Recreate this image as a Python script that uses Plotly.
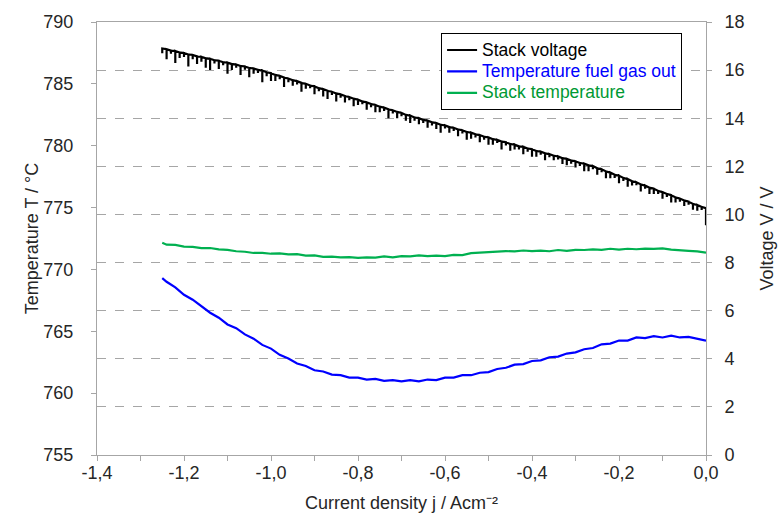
import plotly.graph_objects as go

# ---------------- data ----------------
# stack voltage: each current-density value appears three times (level, spike minimum, level)
j_volt = [-1.25, -1.25, -1.25, -1.24, -1.24, -1.24, -1.23, -1.23, -1.23, -1.22, -1.22, -1.22, -1.21, -1.21, -1.21,
          -1.20, -1.20, -1.20, -1.19, -1.19, -1.19, -1.18, -1.18, -1.18, -1.17, -1.17, -1.17, -1.16, -1.16, -1.16,
          -1.15, -1.15, -1.15, -1.14, -1.14, -1.14, -1.13, -1.13, -1.13, -1.12, -1.12, -1.12, -1.11, -1.11, -1.11,
          -1.10, -1.10, -1.10, -1.09, -1.09, -1.09, -1.08, -1.08, -1.08, -1.07, -1.07, -1.07, -1.06, -1.06, -1.06,
          -1.05, -1.05, -1.05, -1.04, -1.04, -1.04, -1.03, -1.03, -1.03, -1.02, -1.02, -1.02, -1.01, -1.01, -1.01,
          -1.00, -1.00, -1.00, -0.99, -0.99, -0.99, -0.98, -0.98, -0.98, -0.97, -0.97, -0.97, -0.96, -0.96, -0.96,
          -0.95, -0.95, -0.95, -0.94, -0.94, -0.94, -0.93, -0.93, -0.93, -0.92, -0.92, -0.92, -0.91, -0.91, -0.91,
          -0.90, -0.90, -0.90, -0.89, -0.89, -0.89, -0.88, -0.88, -0.88, -0.87, -0.87, -0.87, -0.86, -0.86, -0.86,
          -0.85, -0.85, -0.85, -0.84, -0.84, -0.84, -0.83, -0.83, -0.83, -0.82, -0.82, -0.82, -0.81, -0.81, -0.81,
          -0.80, -0.80, -0.80, -0.79, -0.79, -0.79, -0.78, -0.78, -0.78, -0.77, -0.77, -0.77, -0.76, -0.76, -0.76,
          -0.75, -0.75, -0.75, -0.74, -0.74, -0.74, -0.73, -0.73, -0.73, -0.72, -0.72, -0.72, -0.71, -0.71, -0.71,
          -0.70, -0.70, -0.70, -0.69, -0.69, -0.69, -0.68, -0.68, -0.68, -0.67, -0.67, -0.67, -0.66, -0.66, -0.66,
          -0.65, -0.65, -0.65, -0.64, -0.64, -0.64, -0.63, -0.63, -0.63, -0.62, -0.62, -0.62, -0.61, -0.61, -0.61,
          -0.60, -0.60, -0.60, -0.59, -0.59, -0.59, -0.58, -0.58, -0.58, -0.57, -0.57, -0.57, -0.56, -0.56, -0.56,
          -0.55, -0.55, -0.55, -0.54, -0.54, -0.54, -0.53, -0.53, -0.53, -0.52, -0.52, -0.52, -0.51, -0.51, -0.51,
          -0.50, -0.50, -0.50, -0.49, -0.49, -0.49, -0.48, -0.48, -0.48, -0.47, -0.47, -0.47, -0.46, -0.46, -0.46,
          -0.45, -0.45, -0.45, -0.44, -0.44, -0.44, -0.43, -0.43, -0.43, -0.42, -0.42, -0.42, -0.41, -0.41, -0.41,
          -0.40, -0.40, -0.40, -0.39, -0.39, -0.39, -0.38, -0.38, -0.38, -0.37, -0.37, -0.37, -0.36, -0.36, -0.36,
          -0.35, -0.35, -0.35, -0.34, -0.34, -0.34, -0.33, -0.33, -0.33, -0.32, -0.32, -0.32, -0.31, -0.31, -0.31,
          -0.30, -0.30, -0.30, -0.29, -0.29, -0.29, -0.28, -0.28, -0.28, -0.27, -0.27, -0.27, -0.26, -0.26, -0.26,
          -0.25, -0.25, -0.25, -0.24, -0.24, -0.24, -0.23, -0.23, -0.23, -0.22, -0.22, -0.22, -0.21, -0.21, -0.21,
          -0.20, -0.20, -0.20, -0.19, -0.19, -0.19, -0.18, -0.18, -0.18, -0.17, -0.17, -0.17, -0.16, -0.16, -0.16,
          -0.15, -0.15, -0.15, -0.14, -0.14, -0.14, -0.13, -0.13, -0.13, -0.12, -0.12, -0.12, -0.11, -0.11, -0.11,
          -0.10, -0.10, -0.10, -0.09, -0.09, -0.09, -0.08, -0.08, -0.08, -0.07, -0.07, -0.07, -0.06, -0.06, -0.06,
          -0.05, -0.05, -0.05, -0.04, -0.04, -0.04, -0.03, -0.03, -0.03, -0.02, -0.02, -0.02, -0.01, -0.01, -0.01,
          0.00, 0.00]

stack_voltage = [16.90, 16.70, 16.90, 16.87, 16.45, 16.87, 16.81, 16.68, 16.81, 16.79, 16.30, 16.79, 16.73, 16.50, 16.73,
                 16.71, 16.55, 16.71, 16.65, 16.15, 16.65, 16.63, 16.45, 16.63, 16.57, 16.25, 16.57, 16.55, 16.35, 16.55,
                 16.49, 16.10, 16.49, 16.47, 16.00, 16.47, 16.41, 16.28, 16.41, 16.39, 16.05, 16.39, 16.33, 16.20, 16.33,
                 16.31, 15.85, 16.31, 16.25, 16.00, 16.25, 16.23, 16.10, 16.23, 16.17, 15.80, 16.17, 16.15, 16.02, 16.15,
                 16.09, 15.70, 16.09, 16.07, 15.85, 16.07, 16.01, 15.88, 16.01, 15.98, 15.50, 15.98, 15.91, 15.75, 15.91,
                 15.87, 15.55, 15.87, 15.80, 15.55, 15.80, 15.76, 15.62, 15.76, 15.69, 15.30, 15.69, 15.65, 15.50, 15.65,
                 15.58, 15.35, 15.58, 15.54, 15.40, 15.54, 15.47, 15.10, 15.47, 15.43, 15.22, 15.43, 15.36, 15.25, 15.36,
                 15.32, 15.00, 15.32, 15.25, 15.12, 15.25, 15.21, 14.90, 15.21, 15.14, 14.80, 15.14, 15.10, 14.97, 15.10,
                 15.03, 14.70, 15.03, 14.99, 14.85, 14.99, 14.92, 14.65, 14.92, 14.88, 14.75, 14.88, 14.81, 14.50, 14.81,
                 14.77, 14.55, 14.77, 14.70, 14.58, 14.70, 14.66, 14.35, 14.66, 14.59, 14.46, 14.59, 14.55, 14.25, 14.55,
                 14.48, 14.25, 14.48, 14.44, 14.30, 14.44, 14.37, 14.00, 14.37, 14.33, 14.20, 14.33, 14.26, 14.00, 14.26,
                 14.22, 14.08, 14.22, 14.14, 13.90, 14.14, 14.11, 13.80, 14.11, 14.03, 13.90, 14.03, 14.00, 13.75, 14.00,
                 13.93, 13.80, 13.93, 13.90, 13.60, 13.90, 13.83, 13.70, 13.83, 13.80, 13.55, 13.80, 13.73, 13.40, 13.73,
                 13.70, 13.57, 13.70, 13.63, 13.40, 13.63, 13.60, 13.47, 13.60, 13.53, 13.25, 13.53, 13.50, 13.37, 13.50,
                 13.43, 13.10, 13.43, 13.40, 13.15, 13.40, 13.33, 13.20, 13.33, 13.30, 13.00, 13.30, 13.23, 13.10, 13.23,
                 13.20, 12.90, 13.20, 13.13, 12.90, 13.13, 13.10, 12.97, 13.10, 13.03, 12.70, 13.03, 13.00, 12.87, 13.00,
                 12.93, 12.65, 12.93, 12.90, 12.70, 12.90, 12.83, 12.70, 12.83, 12.81, 12.50, 12.81, 12.74, 12.61, 12.74,
                 12.71, 12.40, 12.71, 12.64, 12.40, 12.64, 12.61, 12.48, 12.61, 12.54, 12.25, 12.54, 12.51, 12.38, 12.51,
                 12.44, 12.25, 12.44, 12.41, 12.28, 12.41, 12.34, 12.10, 12.34, 12.31, 12.05, 12.31, 12.24, 12.11, 12.24,
                 12.21, 11.95, 12.21, 12.14, 12.01, 12.14, 12.11, 11.80, 12.11, 12.04, 11.80, 12.04, 12.01, 11.88, 12.01,
                 11.92, 11.65, 11.92, 11.88, 11.75, 11.88, 11.79, 11.50, 11.79, 11.74, 11.50, 11.74, 11.65, 11.52, 11.65,
                 11.61, 11.30, 11.61, 11.52, 11.39, 11.52, 11.47, 11.15, 11.47, 11.38, 11.20, 11.38, 11.34, 11.21, 11.34,
                 11.25, 10.95, 11.25, 11.20, 11.07, 11.20, 11.11, 10.85, 11.11, 11.07, 10.85, 11.07, 10.98, 10.85, 10.98,
                 10.93, 10.65, 10.93, 10.85, 10.72, 10.85, 10.80, 10.50, 10.80, 10.71, 10.50, 10.71, 10.66, 10.53, 10.66,
                 10.58, 10.35, 10.58, 10.53, 10.40, 10.53, 10.44, 10.20, 10.44, 10.39, 10.15, 10.39, 10.31, 10.18, 10.31,
                 10.26, 9.55]

j_temp = [-1.25, -1.24, -1.22, -1.20, -1.18, -1.16, -1.14, -1.12, -1.10, -1.08,
          -1.06, -1.04, -1.02, -1.00, -0.98, -0.96, -0.94, -0.92, -0.90, -0.88,
          -0.86, -0.84, -0.82, -0.80, -0.78, -0.76, -0.74, -0.72, -0.70, -0.68,
          -0.66, -0.64, -0.62, -0.60, -0.58, -0.56, -0.54, -0.52, -0.50, -0.48,
          -0.46, -0.44, -0.42, -0.40, -0.38, -0.36, -0.34, -0.32, -0.30, -0.28,
          -0.26, -0.24, -0.22, -0.20, -0.18, -0.16, -0.14, -0.12, -0.10, -0.08,
          -0.06, -0.04, -0.02, 0.00]

temp_fuel_gas_out = [769.30, 769.00, 768.55, 767.95, 767.55, 767.00, 766.50, 766.10, 765.55, 765.25,
                     764.75, 764.40, 763.90, 763.60, 763.10, 762.80, 762.40, 762.20, 761.85, 761.75,
                     761.50, 761.45, 761.25, 761.25, 761.10, 761.15, 761.00, 761.05, 760.95, 761.05,
                     760.95, 761.10, 761.05, 761.25, 761.25, 761.45, 761.45, 761.65, 761.70, 761.95,
                     762.05, 762.30, 762.35, 762.60, 762.65, 762.90, 762.95, 763.20, 763.30, 763.55,
                     763.65, 763.95, 764.00, 764.25, 764.25, 764.50, 764.45, 764.60, 764.50, 764.65,
                     764.50, 764.55, 764.40, 764.25]

stack_temperature = [772.15, 772.00, 771.98, 771.85, 771.82, 771.72, 771.73, 771.62, 771.58, 771.47,
                     771.43, 771.33, 771.34, 771.27, 771.30, 771.22, 771.24, 771.12, 771.14, 771.02,
                     771.04, 770.97, 771.00, 770.93, 770.98, 770.96, 771.05, 770.98, 771.07, 771.06,
                     771.13, 771.07, 771.12, 771.08, 771.17, 771.16, 771.32, 771.37, 771.43, 771.42,
                     771.48, 771.46, 771.53, 771.48, 771.52, 771.47, 771.57, 771.50, 771.58, 771.57,
                     771.62, 771.58, 771.67, 771.60, 771.67, 771.63, 771.68, 771.66, 771.70, 771.60,
                     771.58, 771.50, 771.46, 771.35]

x_ticks = [-1.4, -1.2, -1.0, -0.8, -0.6, -0.4, -0.2, 0.0]
x_tick_labels = ["-1,4", "-1,2", "-1,0", "-0,8", "-0,6", "-0,4", "-0,2", "0,0"]

# ---------------- figure ----------------
FONT = "Liberation Sans, Arial, sans-serif"
AXIS_GRAY = "#a6a6a6"
TXT = "#262626"
LEG_SPAN = "<span style='font-size:17.5px;color:{c}'>{t}</span>"

fig = go.Figure()

fig.add_trace(go.Scatter(
    x=j_volt, y=stack_voltage, yaxis="y2", mode="lines",
    name=LEG_SPAN.format(c="#000000", t="Stack voltage"),
    line=dict(color="#000000", width=2.2)))
fig.add_trace(go.Scatter(
    x=j_temp, y=temp_fuel_gas_out, mode="lines",
    name=LEG_SPAN.format(c="#0000ff", t="Temperature fuel gas out"),
    line=dict(color="#0000ff", width=2.2)))
fig.add_trace(go.Scatter(
    x=j_temp, y=stack_temperature, mode="lines",
    name=LEG_SPAN.format(c="#009933", t="Stack temperature"),
    line=dict(color="#00b050", width=2.2)))

fig.update_layout(
    width=780, height=518,
    margin=dict(l=97, r=74, t=22, b=63),
    paper_bgcolor="white", plot_bgcolor="white",
    font=dict(family=FONT, size=18, color=TXT),
    showlegend=True,
    legend=dict(
        x=0.565, y=0.974, xanchor="left", yanchor="top",
        bgcolor="white", bordercolor="#000000", borderwidth=1,
        font=dict(family=FONT, size=14.2),
        tracegroupgap=0, itemwidth=30,
    ),
    xaxis=dict(
        range=[-1.4, 0.0], tickvals=x_ticks, ticktext=x_tick_labels,
        showgrid=False, zeroline=False, automargin=False,
        showline=True, linecolor=AXIS_GRAY, linewidth=1, mirror=True,
        ticks="outside", ticklen=5, tickcolor=AXIS_GRAY,
        ticklabelstandoff=-4,
        minor=dict(dtick=0.1, ticks="outside", ticklen=5, tickcolor=AXIS_GRAY),
        title=dict(text="Current density j / Acm⁻²", standoff=14,
                   font=dict(size=18)),
        tickfont=dict(size=18),
    ),
    yaxis=dict(
        range=[755, 790], dtick=5, showgrid=False, zeroline=False,
        automargin=False,
        showline=True, linecolor=AXIS_GRAY, linewidth=1,
        ticks="outside", ticklen=5, tickcolor=AXIS_GRAY,
        ticklabelstandoff=14,
        title=dict(text="Temperature T / °C", standoff=0, font=dict(size=18)),
        tickfont=dict(size=18),
    ),
    yaxis2=dict(
        range=[0, 18], dtick=2, overlaying="y", side="right",
        showgrid=True, gridcolor=AXIS_GRAY, griddash="dash", gridwidth=1,
        zeroline=False, automargin=False,
        showline=True, linecolor=AXIS_GRAY, linewidth=1,
        ticks="outside", ticklen=5, tickcolor=AXIS_GRAY,
        ticklabelstandoff=9,
        title=dict(text="Voltage V / V", standoff=16, font=dict(size=18)),
        tickfont=dict(size=18),
    ),
)

fig.write_html("out.html")
